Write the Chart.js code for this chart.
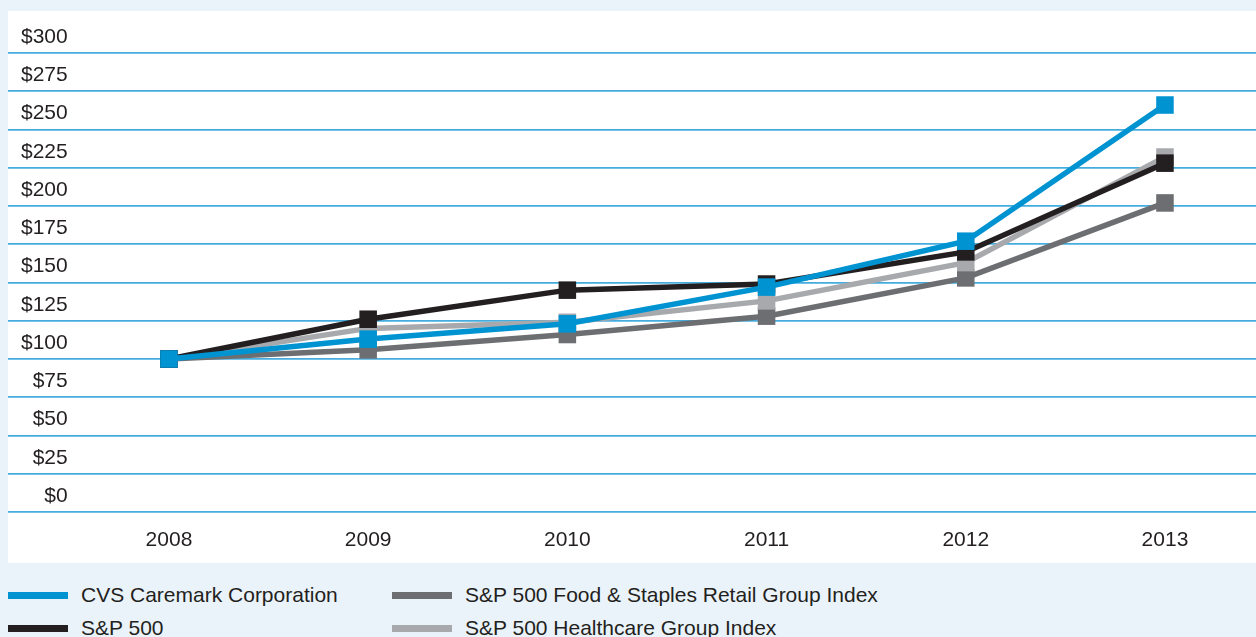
<!DOCTYPE html>
<html>
<head>
<meta charset="utf-8">
<script src="https://cdn.jsdelivr.net/npm/chart.js@4/dist/chart.umd.min.js"></script>
<style>
  html, body { margin: 0; padding: 0; width: 1256px; height: 637px; overflow: hidden; background: #EBF3FA; font-family: "Liberation Sans", Arial, sans-serif; }
  #panel { position: absolute; left: 8px; top: 11px; width: 1248px; height: 552px; background: #ffffff; }
  #wrap { position: absolute; left: 0; top: 0; width: 1256px; height: 563px; }
  #legend { position: absolute; left: 8px; top: 580px; width: 1240px; font-size: 21px; color: #231F20; }
  .item { position: absolute; height: 30px; display: flex; align-items: center; white-space: nowrap; }
  .sw { width: 60px; height: 7px; margin-right: 13px; }
</style>
</head>
<body>
<div id="panel"></div>
<div id="wrap"><canvas id="c"></canvas></div>
<div id="legend"></div>
<script>
// ---- data ----
const years = [2008, 2009, 2010, 2011, 2012, 2013];
const cvsValues = [100, 113, 123, 147, 177, 266];
const sp500Values = [100, 126, 145, 149, 170, 228];
const foodStaplesValues = [100, 106, 116, 128, 153, 202];
const healthcareValues = [100, 120, 124, 138, 163, 232];
const seriesNames = ["CVS Caremark Corporation", "S&P 500", "S&P 500 Food & Staples Retail Group Index", "S&P 500 Healthcare Group Index"];
const yTicks = [0, 25, 50, 75, 100, 125, 150, 175, 200, 225, 250, 275, 300];

// ---- styles ----
const colors = ["#0093D2", "#231F20", "#6D6E71", "#A7A9AC"];
const drawOrder = [0, 1, 3, 2];
const allValues = [cvsValues, sp500Values, foodStaplesValues, healthcareValues];
const FONT = '"Liberation Sans", Arial, sans-serif';

const datasets = allValues.map((vals, i) => ({
  label: seriesNames[i],
  data: years.map((y, k) => ({ x: y, y: vals[k] })),
  borderColor: colors[i],
  backgroundColor: colors[i],
  borderWidth: 5.5,
  pointStyle: 'rect',
  pointRadius: 12.4,
  pointHoverRadius: 12.4,
  pointBorderWidth: 0,
  tension: 0,
  order: drawOrder[i],
  clip: false
}));

new Chart(document.getElementById('c'), {
  type: 'line',
  data: { datasets },
  options: {
    responsive: true,
    maintainAspectRatio: false,
    animation: false,
    events: [],
    layout: { autoPadding: false, padding: { left: 8, right: 0, top: 53, bottom: 11 } },
    plugins: { legend: { display: false }, tooltip: { enabled: false } },
    scales: {
      x: {
        type: 'linear',
        min: 2007.192,
        max: 2013.457,
        afterBuildTicks: (s) => { s.ticks = years.map(v => ({ value: v })); },
        afterFit: (s) => { s.paddingLeft = 0; s.paddingRight = 0; s.height = 40; },
        grid: { display: false, drawTicks: false },
        border: { display: false },
        ticks: {
          callback: (v) => String(v),
          color: '#231F20',
          font: { family: FONT, size: 21 },
          padding: 16,
          maxRotation: 0,
          autoSkip: false
        }
      },
      y: {
        min: 0,
        max: 300,
        afterBuildTicks: (s) => { s.ticks = yTicks.map(v => ({ value: v })); },
        afterFit: (s) => { s.paddingTop = 0; s.paddingBottom = 0; s.width = 0; },
        grid: { color: '#45ACDF', lineWidth: 1.7, drawTicks: false },
        border: { display: false },
        ticks: {
          mirror: true,
          crossAlign: 'far',
          padding: 13,
          labelOffset: -16,
          callback: (v) => '$' + v,
          color: '#231F20',
          font: { family: FONT, size: 21 }
        }
      }
    }
  }
});

// ---- HTML legend built from the series ----
const legendPos = [[0, 0], [0, 1], [1, 0], [1, 1]];
const colX = [0, 384];
const legend = document.getElementById('legend');
seriesNames.forEach((name, i) => {
  const it = document.createElement('div');
  it.className = 'item';
  it.style.left = colX[legendPos[i][0]] + 'px';
  it.style.top = (legendPos[i][1] * 33) + 'px';
  const sw = document.createElement('span');
  sw.className = 'sw';
  sw.style.background = colors[i];
  const tx = document.createElement('span');
  tx.textContent = name;
  it.appendChild(sw);
  it.appendChild(tx);
  legend.appendChild(it);
});
</script>
</body>
</html>
